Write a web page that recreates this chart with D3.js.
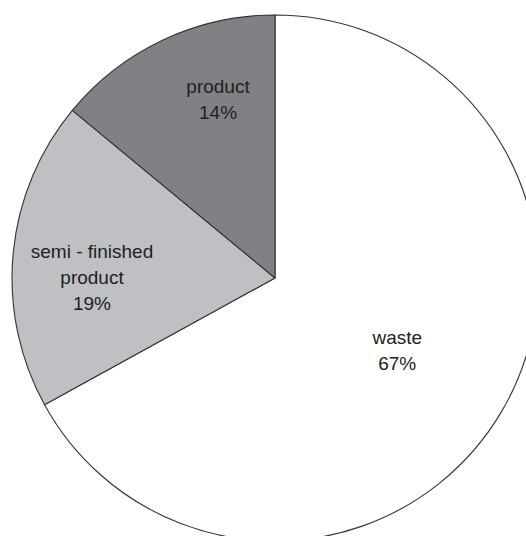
<!DOCTYPE html>
<html>
<head>
<meta charset="utf-8">
<script src="https://cdn.jsdelivr.net/npm/d3@7"></script>
<style>
  html, body { margin: 0; padding: 0; background: #fff; }
  svg { display: block; }
</style>
</head>
<body>
<svg id="chart" width="526" height="536"></svg>
<script>
// Share of output by category (percent)
const categories = ["waste", "semi - finished product", "product"];
const shares = [67, 19, 14];
const labelLines = [["waste"], ["semi - finished", "product"], ["product"]];

const fills = ["#ffffff", "#bfc0c4", "#808185"];

const width = 526, height = 536;
const cx = 275, cy = 278, radius = 263;

const svg = d3.select("#chart");
const g = svg.append("g").attr("transform", `translate(${cx},${cy})`);

const pie = d3.pie().sort(null).value(d => d.value);
const arcs = pie(categories.map((c, i) => ({ name: c, value: shares[i], lines: labelLines[i], fill: fills[i] })));

const arc = d3.arc().innerRadius(0).outerRadius(radius);

g.selectAll("path.slice")
  .data(arcs)
  .join("path")
  .attr("class", "slice")
  .attr("d", arc)
  .attr("fill", d => d.data.fill)
  .attr("stroke", "#333")
  .attr("stroke-width", 1.1)
  .attr("stroke-linejoin", "round");

// Label anchor inside each slice: radius and position along the slice's sweep
const labelPlacement = [
  { r: 142, t: 0.5 },
  { r: 183, t: 0.425 },
  { r: 188, t: 0.65 }
];
function labelPos(d, i) {
  const p = labelPlacement[i];
  const a = d.startAngle + p.t * (d.endAngle - d.startAngle);
  return [p.r * Math.sin(a), -p.r * Math.cos(a)];
}

const lineH = 26;
const labels = g.selectAll("text.label")
  .data(arcs)
  .join("text")
  .attr("class", "label")
  .attr("text-anchor", "middle")
  .attr("font-family", "'Liberation Sans', Arial, sans-serif")
  .attr("font-size", 19)
  .attr("fill", "#222")
  .attr("transform", (d, i) => {
    const [x, y] = labelPos(d, i);
    return `translate(${x},${y})`;
  });

labels.each(function(d) {
  const lines = d.data.lines.concat([d.data.value + "%"]);
  const t = d3.select(this);
  const y0 = -((lines.length - 1) * lineH) / 2 + 7;
  lines.forEach((s, i) => {
    t.append("tspan").attr("x", 0).attr("y", y0 + i * lineH).text(s);
  });
});
</script>
</body>
</html>
